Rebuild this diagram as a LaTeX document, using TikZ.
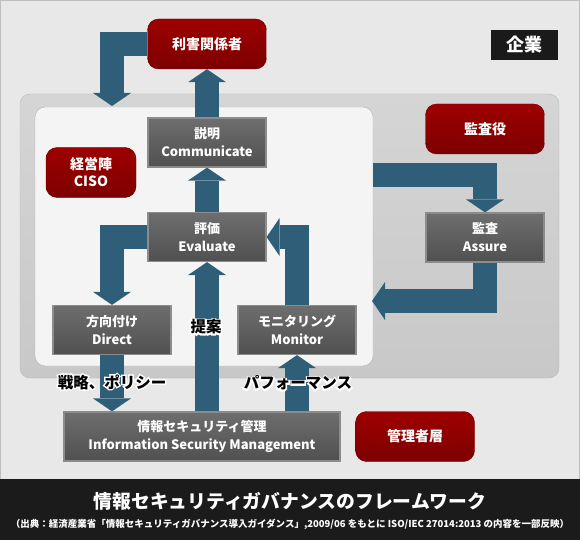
\documentclass[tikz,border=0pt]{standalone}
\usepackage{fontspec}
\setmainfont{Noto Sans CJK JP}
\usetikzlibrary{arrows.meta}

\definecolor{flowblue}{RGB}{47,94,120}
\definecolor{bggray}{RGB}{232,232,232}
\definecolor{edgegray}{RGB}{190,190,190}
\definecolor{bandblack}{RGB}{27,27,27}
\definecolor{enttop}{RGB}{213,213,213}
\definecolor{entbot}{RGB}{200,200,200}
\definecolor{entedge}{RGB}{186,186,186}
\definecolor{panelwhite}{RGB}{244,244,244}
\definecolor{paneledge}{RGB}{178,178,178}
\definecolor{roletop}{RGB}{158,0,0}
\definecolor{rolebot}{RGB}{125,0,0}
\definecolor{roleedge}{RGB}{112,0,0}
\definecolor{tasktop}{RGB}{110,110,110}
\definecolor{taskbot}{RGB}{80,80,80}
\definecolor{taskedge}{RGB}{140,140,140}
\definecolor{corpblack}{RGB}{26,26,26}

\pgfdeclarelayer{back}
\pgfdeclarelayer{flows}
\pgfsetlayers{back,flows,main}

\begin{document}
\begin{tikzpicture}[x=1pt,y=-1pt,
        role/.style={draw=roleedge,top color=roletop,bottom color=rolebot,rounded corners=11pt,
            minimum width=119pt,minimum height=50pt,text=white,align=center,
            font=\bfseries\fontsize{14}{17}\selectfont},
        task/.style={draw=taskedge,line width=1.2pt,top color=tasktop,bottom color=taskbot,
            minimum width=118pt,minimum height=49pt,text=white,align=center,
            font=\bfseries\fontsize{13}{18}\selectfont},
        flow/.style={line width=24pt,draw=flowblue,-{Triangle[width=38pt,length=13pt,line width=0pt]}},
        tag/.style={font=\bfseries\fontsize{15.5}{18}\selectfont},
        halo/.style={tag,text=white,font=\bfseries\fontsize{15.5}{18}\selectfont\addfontfeature{FakeBold=18}}]

    \useasboundingbox (0,0) rectangle (580,540);

    \begin{pgfonlayer}{back}
        \fill[bggray] (0,0) rectangle (580,479);
        \draw[edgegray] (0.5,0.5) rectangle (579.5,479);
        \fill[bandblack] (0,479) rectangle (580,540);
        \draw[entedge,top color=enttop,bottom color=entbot,rounded corners=10pt] (20,94) rectangle (559,378);
        \draw[paneledge,fill=panelwhite,rounded corners=10pt] (35,107) rectangle (373,366);
    \end{pgfonlayer}

    \node[fill=corpblack,text=white,minimum width=67pt,minimum height=30pt,
        font=\bfseries\fontsize{18}{20}\selectfont] (corp) at (524.5,45) {企業};

    \node[role] (stake) at (207,44) {利害関係者};
    \node[role] (audit) at (485,129) {監査役};
    \node[role,minimum width=90pt] (ciso) at (91,172.5) {経営陣\\CISO};
    \node[role] (mgr) at (415,436.5) {管理者層};

    \node[task] (comm) at (207,142.5) {説明\\Communicate};
    \node[task] (eval) at (207,237) {評価\\Evaluate};
    \node[task] (assure) at (485,237.5) {監査\\Assure};
    \node[task] (direct) at (112,330) {方向付け\\Direct};
    \node[task] (monitor) at (297,330) {モニタリング\\Monitor};
    \node[task,minimum width=276pt] (ism) at (202,436.5) {情報セキュリティ管理\\Information Security Management};

    \coordinate (drop) at (112,106);
    \coordinate (out) at (373,175);
    \coordinate (back) at (372,301);

    \begin{pgfonlayer}{flows}
        \draw[flow] (stake.west) -| (drop);
        \draw[flow] (comm.north) -- (stake.south);
        \draw[flow] (eval.north) -- (comm.south);
        \draw[flow] (eval.west) -| (direct.north);
        \draw[flow] (ism.north -| eval.south) -- (eval.south);
        \draw[flow] (monitor.north) |- (eval.east);
        \draw[flow] (ism.north -| monitor.south) -- (monitor.south);
        \draw[flow] (direct.south) -- (ism.north -| direct.south);
        \draw[flow] (out) -| (assure.north);
        \draw[flow] (assure.south) |- (back);
    \end{pgfonlayer}

    \node[halo] at (206,327) {提案};
    \node[tag] (plan) at (206,327) {提案};
    \node[halo] at (112,382) {戦略、ポリシー};
    \node[tag] (policy) at (112,382) {戦略、ポリシー};
    \node[halo] at (298,383) {パフォーマンス};
    \node[tag] (perf) at (298,383) {パフォーマンス};

    \node[text=white,font=\bfseries\fontsize{18.8}{20}\selectfont] (title) at (290,501)
        {情報セキュリティガバナンスのフレームワーク};
    \node[text=white,font=\bfseries\fontsize{9.5}{11}\selectfont] (source) at (290,524)
        {（出典：経済産業省「情報セキュリティガバナンス導入ガイダンス」,2009/06 をもとに ISO/IEC 27014:2013 の内容を一部反映）};
\end{tikzpicture}
\end{document}
